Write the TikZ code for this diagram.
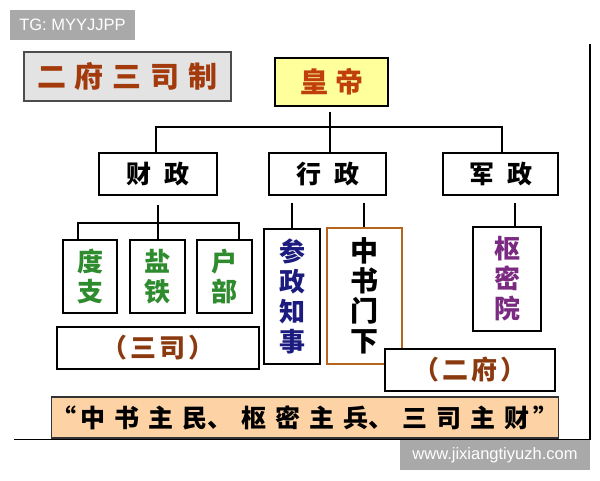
\documentclass[tikz,border=0pt]{standalone}
\usepackage{fontspec}
\setmainfont{Liberation Sans}
\newfontfamily\cjk{Noto Sans CJK SC}
\definecolor{titlered}{HTML}{A33A0C}
\definecolor{emptext}{HTML}{C0400C}
\definecolor{empfill}{HTML}{FFFF9C}
\definecolor{titlefill}{HTML}{E3E3E3}
\definecolor{greentext}{HTML}{2E8B2E}
\definecolor{navytext}{HTML}{1C1C80}
\definecolor{purpletext}{HTML}{7A2A80}
\definecolor{orangeedge}{HTML}{B5651D}
\definecolor{browntext}{HTML}{8B3A0F}
\definecolor{peach}{HTML}{FDD3A6}
\definecolor{wmgray}{HTML}{A9A9A9}
\tikzset{
  box/.style={draw=black, line width=1.8pt, inner sep=0pt, fill=white, align=center},
  conn/.style={line width=2pt, draw=black},
  cjkfont/.style={font=\cjk\bfseries\fontsize{#1}{#1}\selectfont},
  vtext/.style={font=\cjk\bfseries\fontsize{#1}{30}\selectfont},
  wm/.style={fill=wmgray, text=white, inner sep=0pt, font=\fontsize{16.5}{18}\selectfont},
}
\begin{document}
\begin{tikzpicture}[x=1pt,y=-1pt]
\useasboundingbox (0,0) rectangle (600,480);
% frame
\draw[line width=1.6pt] (590,44) -- (590,439.5) -- (14,439.5);
% watermarks
\node[wm, minimum width=125pt, minimum height=30pt] (tg) at (72.5,25) {TG: MYYJJPP};
\node[wm, minimum width=190pt, minimum height=30pt] (www) at (495,455) {www.jixiangtiyuzh.com};
% title
\node[box, draw=black!70, line width=1.4pt, fill=titlefill, minimum width=207pt, minimum height=49pt,
      text=titlered, cjkfont=29] (title) at (127.5,76.5)
  {二\hspace{9pt}府\hspace{9pt}三\hspace{9pt}司\hspace{9pt}制};
% emperor
\node[box, fill=empfill, minimum width=113pt, minimum height=48pt, text=emptext, cjkfont=28] (emp) at (331.5,82)
  {皇\hspace{7pt}帝};
% level 2
\node[box, minimum width=118pt, minimum height=42pt, cjkfont=25] (cai) at (158,174) {财\hspace{13pt}政};
\node[box, minimum width=117pt, minimum height=42pt, cjkfont=25] (xing) at (327.5,174) {行\hspace{13pt}政};
\node[box, minimum width=115pt, minimum height=42pt, cjkfont=25] (jun) at (500.5,174) {军\hspace{13pt}政};
% san si
\node[box, minimum width=54pt, minimum height=73pt, text=greentext, vtext=26] (duzhi) at (90,276.5) {度\\支};
\node[box, minimum width=55pt, minimum height=73pt, text=greentext, vtext=26] (yantie) at (157.5,276.5) {盐\\铁};
\node[box, minimum width=55pt, minimum height=73pt, text=greentext, vtext=26] (hubu) at (224.5,276.5) {户\\部};
\node[box, minimum width=202pt, minimum height=42pt, text=browntext, cjkfont=26] (sansi) at (158,348) {（\hspace{3pt}三\hspace{3pt}司\hspace{3pt}）};
% xingzheng children
\node[box, minimum width=56pt, minimum height=135pt, text=navytext, vtext=26] (canzheng) at (292,296.5) {参\\政\\知\\事};
\node[box, draw=orangeedge, minimum width=75pt, minimum height=136pt, vtext=28] (zhongshu) at (364.5,296) {中\\书\\门\\下};
\node[box, minimum width=170pt, minimum height=42pt, text=browntext, cjkfont=26] (erfu) at (470,370) {（\hspace{3pt}二\hspace{3pt}府\hspace{3pt}）};
% junzheng child
\node[box, minimum width=68pt, minimum height=104pt, text=purpletext, vtext=26] (shumi) at (507,279) {枢\\密\\院};
% quote
\node[box, draw=black!80, line width=1.4pt, fill=peach, minimum width=506pt, minimum height=41pt, cjkfont=25] (quote) at (305,417.5)
  {“\hspace{4pt}中\hspace{9pt}书\hspace{9pt}主\hspace{9pt}民、\hspace{9pt}枢\hspace{9pt}密\hspace{9pt}主\hspace{9pt}兵、\hspace{9pt}三\hspace{9pt}司\hspace{9pt}主\hspace{9pt}财\hspace{4pt}”};
% connectors
\coordinate (bus) at (0,127);
\coordinate (bus2) at (0,223);
\coordinate (es) at ([xshift=-1.5pt,yshift=-5pt]emp.south);
\draw[conn] (es) -- (es |- xing.north);
\draw[conn] ([xshift=-2pt]cai.north) -- ([xshift=-2pt]cai.north |- bus) -- ([xshift=1.5pt]jun.north |- bus) -- ([xshift=1.5pt]jun.north);
\coordinate (cs) at ([yshift=-9pt]cai.south);
\draw[conn] (cs) -- (cs |- yantie.north);
\coordinate (dl) at ([xshift=-12pt]duzhi.north);
\coordinate (hr) at ([xshift=14.5pt]hubu.north);
\draw[conn] (dl) -- (dl |- bus2) -- (hr |- bus2) -- (hr);
\coordinate (xs) at ([yshift=-7pt]xing.south);
\draw[conn] (xs -| canzheng.north) -- (canzheng.north);
\coordinate (zt) at ([xshift=-0.5pt]zhongshu.north);
\draw[conn] (xs -| zt) -- (zt);
\coordinate (js) at ([yshift=-7pt]jun.south);
\coordinate (st) at ([xshift=8pt]shumi.north);
\draw[conn] (st |- js) -- (st);
\end{tikzpicture}
\end{document}
